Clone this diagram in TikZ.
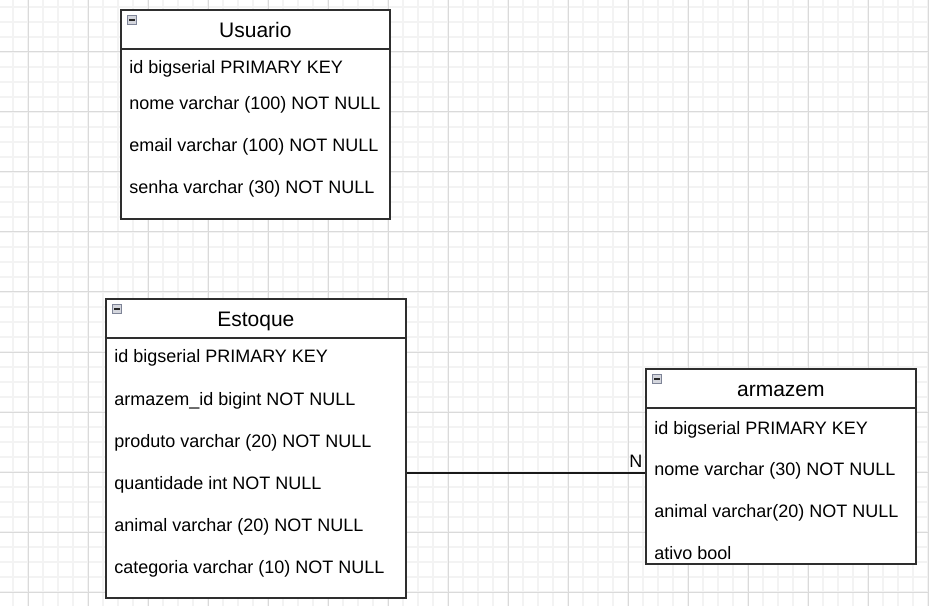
\documentclass[tikz,border=0pt]{standalone}
\usepackage{fontspec}
\setmainfont{Liberation Sans}
\usepackage{xcolor}
\usetikzlibrary{positioning}

\definecolor{gridmin}{HTML}{F3F3F3}
\definecolor{gridmaj}{HTML}{DADADA}
\definecolor{edge}{HTML}{2E2E2E}
\definecolor{iconfill}{HTML}{D4D6DD}
\definecolor{iconedge}{HTML}{7E8497}

\begin{document}
\begin{tikzpicture}[
    x=0.75pt, y=-0.75pt,
    every node/.style={font=\fontsize{13.5}{16}\selectfont},
    gmin/.style={draw=gridmin,line width=1pt},
    gmaj/.style={draw=gridmaj,line width=0.75pt},
    tab/.style={draw=edge,line width=1.3pt,fill=white,anchor=north west,inner sep=0pt},
    hdr/.style={draw=edge,line width=1.3pt,anchor=north west,inner sep=0pt,
                minimum height=29.25pt,text height=12.5pt,text depth=0pt,
                font=\fontsize{15.75}{18}\selectfont},
    fld/.style={anchor=base west,inner sep=0pt},
    mini/.style={draw=iconedge,fill=iconfill,line width=0.8pt,minimum size=6.75pt,
                 inner sep=0pt,
                 path picture={\draw[black!85,line width=1.3pt]
                   ([xshift=1.4pt]path picture bounding box.west) --
                   ([xshift=-1.4pt]path picture bounding box.east);}},
    rel/.style={draw=black!90,line width=1pt},
    lab/.style={anchor=base east,inner sep=1.5pt},
  ]
  \useasboundingbox[fill=white] (0,0) rectangle (929,606);

  % -- background grid --
  \foreach \gx in {13,28,...,928} \draw[gmin] (\gx,0) -- (\gx,606);
  \foreach \gy in {7,22,...,604} \draw[gmin] (0,\gy) -- (929,\gy);
  \foreach \gx in {28,88,...,928} \draw[gmaj] (\gx,0) -- (\gx,606);
  \foreach \gy in {52,112,...,592} \draw[gmaj] (0,\gy) -- (929,\gy);

  % -- Usuario --
  \node[tab,minimum width=201.75pt,minimum height=156.75pt] (usu) at (120,9) {};
  \node[hdr,minimum width=201.75pt] (usu-h) at (usu.north west) {Usuario};
  \node[mini,below right=4.5pt and 5.25pt of usu.north west] (usu-m) {};
  \node[fld] (usu-id)    at (129,74)  {id bigserial PRIMARY KEY};
  \node[fld] (usu-nome)  at (129,110) {nome varchar (100) NOT NULL};
  \node[fld] (usu-email) at (129,152) {email varchar (100) NOT NULL};
  \node[fld] (usu-senha) at (129,194) {senha varchar (30) NOT NULL};

  % -- Estoque --
  \node[tab,minimum width=225pt,minimum height=224.25pt] (est) at (105,298) {};
  \node[hdr,minimum width=225pt] (est-h) at (est.north west) {Estoque};
  \node[mini,below right=4.5pt and 5.25pt of est.north west] (est-m) {};
  \node[fld] (est-id)   at (114,363) {id bigserial PRIMARY KEY};
  \node[fld] (est-arm)  at (114,405) {armazem\_id bigint NOT NULL};
  \node[fld] (est-prod) at (114,447) {produto varchar (20) NOT NULL};
  \node[fld] (est-qtd)  at (114,489) {quantidade int NOT NULL};
  \node[fld] (est-ani)  at (114,531) {animal varchar (20) NOT NULL};
  \node[fld] (est-cat)  at (114,573) {categoria varchar (10) NOT NULL};

  % -- armazem --
  \node[tab,minimum width=202.5pt,minimum height=146.25pt] (arm) at (645,368) {};
  \node[hdr,minimum width=202.5pt] (arm-h) at (arm.north west) {armazem};
  \node[mini,below right=4.5pt and 5.25pt of arm.north west] (arm-m) {};
  \node[fld] (arm-id)    at (654,434) {id bigserial PRIMARY KEY};
  \node[fld] (arm-nome)  at (654,475) {nome varchar (30) NOT NULL};
  \node[fld] (arm-ani)   at (654,517) {animal varchar(20) NOT NULL};
  \node[fld] (arm-ativo) at (654,559) {ativo bool};

  % -- relation --
  \draw[rel] ([yshift=-2pt]arm-nome.west -| est.east) --
      node[lab,pos=1,yshift=4pt] {N} ([yshift=-2pt]arm-nome.west -| arm.west);
\end{tikzpicture}
\end{document}
